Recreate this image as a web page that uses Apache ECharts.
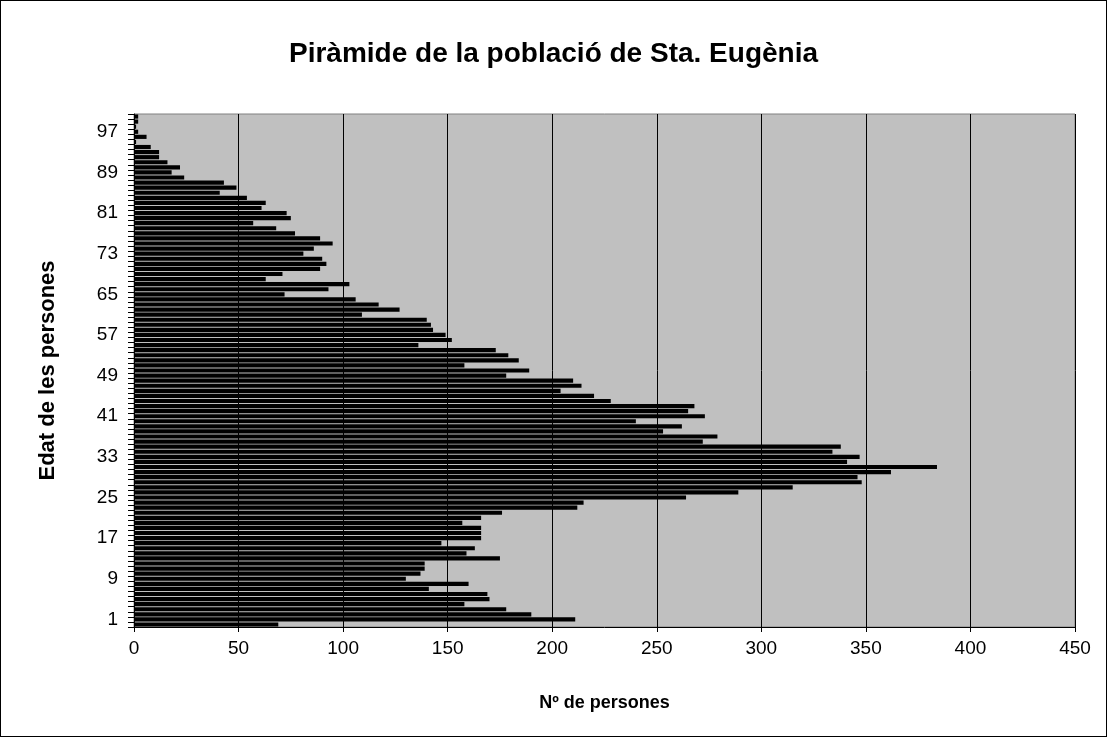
<!DOCTYPE html>
<html>
<head>
<meta charset="utf-8">
<script src="https://cdn.jsdelivr.net/npm/echarts@6/dist/echarts.min.js"></script>
<style>
  body { margin: 0; background: #fff; }
  #frame { width: 1107px; height: 737px; box-sizing: border-box; border: 1px solid #000; }
  #chart { width: 1105px; height: 735px; }
</style>
</head>
<body>
<div id="frame"><div id="chart"></div></div>
<script>
// ages 0..100, bottom to top
const ages = [
  '0','1','2','3','4','5','6','7','8','9',
  '10','11','12','13','14','15','16','17','18','19',
  '20','21','22','23','24','25','26','27','28','29',
  '30','31','32','33','34','35','36','37','38','39',
  '40','41','42','43','44','45','46','47','48','49',
  '50','51','52','53','54','55','56','57','58','59',
  '60','61','62','63','64','65','66','67','68','69',
  '70','71','72','73','74','75','76','77','78','79',
  '80','81','82','83','84','85','86','87','88','89',
  '90','91','92','93','94','95','96','97','98','99','100'
];
const persones = [
  69, 211, 190, 178, 158, 170, 169, 141, 160, 130,
  137, 139, 139, 175, 159, 163, 147, 166, 166, 166,
  157, 166, 176, 212, 215, 264, 289, 315, 348, 346,
  362, 384, 341, 347, 334, 338, 272, 279, 253, 262,
  240, 273, 265, 268, 228, 220, 204, 214, 210, 178,
  189, 158, 184, 179, 173, 136, 152, 149, 143, 142,
  140, 109, 127, 117, 106, 72, 93, 103, 63, 71,
  89, 92, 90, 81, 86, 95, 89, 77, 68, 57,
  75, 73, 61, 63, 54, 41, 49, 43, 24, 18,
  22, 16, 12, 12, 8, 1, 6, 2, 1, 2, 2
];
const xTicks = { min: 0, max: 450, step: 50 };

const font = 'Liberation Sans, Arial, sans-serif';
const chart = echarts.init(document.getElementById('chart'));
chart.setOption({
  animation: false,
  title: {
    text: 'Piràmide de la població de Sta. Eugènia',
    left: 'center',
    top: 34,
    textStyle: { fontFamily: font, fontSize: 28, fontWeight: 'bold', color: '#000' }
  },
  grid: {
    left: 133, right: 31, top: 113, bottom: 109,
    show: true, backgroundColor: '#c0c0c0', borderColor: '#808080', borderWidth: 1
  },
  xAxis: {
    type: 'value',
    min: xTicks.min, max: xTicks.max, interval: xTicks.step,
    name: 'Nº de persones',
    nameLocation: 'middle',
    nameGap: 67,
    nameTextStyle: { fontFamily: font, fontSize: 18, fontWeight: 'bold', color: '#000' },
    axisLine: { show: true, lineStyle: { color: '#000', width: 1 } },
    axisTick: { show: true, length: 5, lineStyle: { color: '#000' } },
    axisLabel: { fontFamily: font, fontSize: 19, color: '#000', margin: 12 },
    splitLine: { show: true, lineStyle: { color: '#000', width: 1 } }
  },
  yAxis: {
    type: 'category',
    data: ages,
    name: 'Edat de les persones',
    nameLocation: 'middle',
    nameGap: 75,
    nameRotate: 90,
    nameTextStyle: { fontFamily: font, fontSize: 22, fontWeight: 'bold', color: '#000' },
    axisLine: { show: true, lineStyle: { color: '#000', width: 1 } },
    axisTick: { show: true, interval: 0, length: 6, lineStyle: { color: '#000' } },
    axisLabel: {
      fontFamily: font, fontSize: 19, color: '#000', margin: 16,
      padding: [4, 0, 0, 0],
      interval: function (i) { return i % 8 === 1; }
    },
    splitLine: { show: false }
  },
  series: [{
    type: 'bar',
    data: persones,
    barCategoryGap: '18%',
    itemStyle: { color: '#000' },
    emphasis: { disabled: true }
  }]
});
</script>
</body>
</html>
